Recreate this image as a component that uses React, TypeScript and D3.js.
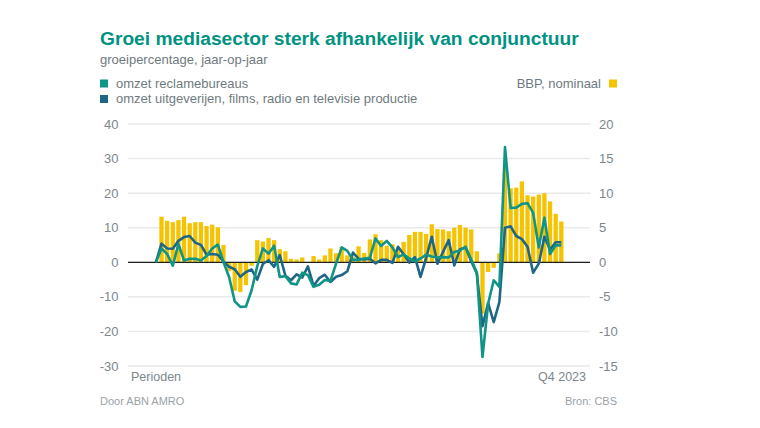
import React from "react";
import * as d3 from "d3";

// ---- data ----
const years = [2006, 2007, 2008, 2009, 2010, 2011, 2012, 2013, 2014, 2015, 2016, 2017, 2018, 2019, 2020, 2021, 2022, 2023];
const quarters = ["Q1", "Q2", "Q3", "Q4"];
const periods: string[] = ["Q4 2005"].concat(
  years.flatMap((y) => quarters.map((q) => `${q} ${y}`))
);

// BBP, nominaal (right axis)
const gdp: (number | null)[] = [
  null,
  6.6, 6.0, 5.8, 6.1, 6.6, 5.65, 5.8, 5.8, 5.25, 5.45, 5.05, 2.5,
  -1.3, -4.1, -4.3, -3.3, -0.5, 3.2, 3.0, 3.5, 3.2, 1.9, 1.6, 0.5,
  0.4, 0.7, 0.0, 0.9, 0.4, 1.0, 2.0, 1.3, 2.2, 1.0, 0.8, 2.3,
  1.35, 3.3, 4.05, 3.2, 2.4, 2.6, 2.0, 2.95, 3.95, 4.4, 4.4, 4.1,
  5.5, 4.8, 4.75, 4.5, 5.0, 5.4, 5.0, 4.75, 1.6, -7.4, -1.4, -0.8,
  1.3, 14.0, 10.7, 10.8, 11.7, 9.7, 9.5, 9.8, 10.0, 8.8, 7.0, 5.9,
];

// omzet reclamebureaus (left axis)
const reclame: number[] = [
  0,
  4.0, 2.4, -1.0, 5.3, 0.5, 1.0, 1.0, 0.5, 1.8, 4.0, 5.1, 0.1,
  -4.25, -11.3, -12.9, -12.8, -8.1, -1.1, 4.0, 2.5, 4.8, -4.25, -4.0, -6.1,
  -6.4, -3.0, -3.7, -7.1, -6.5, -5.1, -5.4, -0.4, 4.3, 3.3, 0.7, 0.7,
  1.1, 1.3, 6.9, 4.7, 6.2, 4.3, 1.5, 2.3, 1.1, 0.3, 1.1, 2.2,
  1.7, 1.4, 1.5, 1.4, 3.0, 3.4, 4.5, 0.8, -3.0, -27.4, -12.0, -5.2,
  -7.1, 33.3, 15.7, 15.8, 16.9, 17.1, 14.3, 4.3, 12.9, 2.4, 4.9, 4.9,
];

// omzet uitgeverijen, films, radio en televisie productie (left axis)
const uitgeverijen: number[] = [
  0,
  5.4, 4.0, 3.9, 6.2, 7.3, 7.6, 5.7, 5.0, 2.2, 2.4, 2.2, 0.2,
  -1.3, -2.0, -4.2, -2.8, -2.1, -5.0, -0.5, 0.6, -1.3, 2.1, -3.9, -5.2,
  -3.5, -4.4, -1.2, -6.8, -4.6, -3.6, -5.7, -4.2, -3.7, -2.6, 2.8, 1.0,
  0.8, 1.0, -0.3, 0.7, 0.7, -0.2, 4.5, 2.3, -0.1, 1.5, -4.25, 1.3,
  7.4, -0.4, 3.0, 6.4, -0.9, 3.8, 4.3, 0.3, -3.2, -18.5, -11.8, -17.3,
  -11.5, 10.0, 10.4, 7.6, 6.7, 4.5, -3.0, -0.4, 7.4, 3.7, 5.8, 5.8,
];

const leftTicks = [40, 30, 20, 10, 0, -10, -20, -30];
const rightTicks = [20, 15, 10, 5, 0, -5, -10, -15];

const title = "Groei mediasector sterk afhankelijk van conjunctuur";
const subtitle = "groeipercentage, jaar-op-jaar";
const legendLeft = ["omzet reclamebureaus", "omzet uitgeverijen, films, radio en televisie productie"];
const legendRight = "BBP, nominaal";

// ---- styles ----
const W = 760;
const H = 428;
const FONT = "'Liberation Sans', Arial, Helvetica, sans-serif";
const C_TEAL = "#0f9488";
const C_DARK = "#1d6686";
const C_YELLOW = "#f5c300";
const C_TITLE = "#009282";
const C_TEXT = "#6f7a80";
const C_AXIS = "#7c868c";
const C_FOOT = "#9aa2a7";

export default function App() {
  const plotLeft = 128;
  const plotRight = 590;
  const yTop = 124;
  const yBottom = 366;

  const x = d3
    .scaleBand<string>()
    .domain(periods)
    .range([152.4, 564.8])
    .padding(0.24);
  const cx = (p: string) => (x(p) as number) + x.bandwidth() / 2;

  const yL = d3.scaleLinear().domain([-30, 40]).range([yBottom, yTop]);
  const yR = d3.scaleLinear().domain([-15, 20]).range([yBottom, yTop]);

  const lineGen = (vals: number[]) =>
    d3
      .line<number>()
      .x((_, i) => cx(periods[i]))
      .y((v) => yL(v))
      .curve(d3.curveLinear)(vals) as string;

  return (
    <svg
      width={W}
      height={H}
      style={{ position: "absolute", left: 0, top: 0, background: "#fff" }}
      fontFamily={FONT}
    >
      <text x={100} y={45} fontSize={19.2} fontWeight="bold" fill={C_TITLE}>
        {title}
      </text>
      <text x={100} y={64} fontSize={13} fill={C_TEXT}>
        {subtitle}
      </text>

      {/* legend */}
      <rect x={100} y={79.5} width={8} height={8} fill={C_TEAL} />
      <text x={116} y={87.5} fontSize={13} fill={C_TEXT}>
        {legendLeft[0]}
      </text>
      <rect x={100} y={95} width={8} height={8} fill={C_DARK} />
      <text x={116} y={103} fontSize={13} fill={C_TEXT}>
        {legendLeft[1]}
      </text>
      <text x={601} y={87.5} fontSize={13} fill={C_TEXT} textAnchor="end">
        {legendRight}
      </text>
      <rect x={609} y={79.5} width={8} height={8} fill={C_YELLOW} />

      {/* gridlines */}
      {leftTicks.map((t) => (
        <line
          key={"g" + t}
          x1={plotLeft}
          x2={plotRight}
          y1={yL(t)}
          y2={yL(t)}
          stroke="#e9e9e9"
          strokeWidth={1.5}
        />
      ))}

      {/* left axis labels */}
      {leftTicks.map((t) => (
        <text
          key={"l" + t}
          x={118.5}
          y={yL(t)}
          dy="0.35em"
          fontSize={13}
          fill={C_AXIS}
          textAnchor="end"
        >
          {t}
        </text>
      ))}
      {/* right axis labels */}
      {rightTicks.map((t) => (
        <text
          key={"r" + t}
          x={599}
          y={yR(t)}
          dy="0.35em"
          fontSize={13}
          fill={C_AXIS}
        >
          {t}
        </text>
      ))}

      {/* bars */}
      {gdp.map((v, i) =>
        v === null ? null : (
          <rect
            key={"b" + i}
            x={x(periods[i])}
            width={x.bandwidth()}
            y={Math.min(yR(v), yR(0))}
            height={Math.abs(yR(v) - yR(0))}
            fill={C_YELLOW}
          />
        )
      )}

      {/* zero line */}
      <line x1={plotLeft} x2={plotRight} y1={yL(0)} y2={yL(0)} stroke="#222" strokeWidth={1.2} />

      {/* lines */}
      <path d={lineGen(uitgeverijen)} fill="none" stroke={C_DARK} strokeWidth={2.6} strokeLinejoin="round" />
      <path d={lineGen(reclame)} fill="none" stroke={C_TEAL} strokeWidth={2.6} strokeLinejoin="round" />

      {/* x labels */}
      <text x={131} y={381} fontSize={12.5} fill={C_AXIS}>
        Perioden
      </text>
      <text x={586} y={381} fontSize={12.5} fill={C_AXIS} textAnchor="end">
        {periods[periods.length - 1]}
      </text>

      {/* footer */}
      <text x={100} y={405} fontSize={11} fill={C_FOOT}>
        Door ABN AMRO
      </text>
      <text x={617} y={405} fontSize={11} fill={C_FOOT} textAnchor="end">
        Bron: CBS
      </text>
    </svg>
  );
}
